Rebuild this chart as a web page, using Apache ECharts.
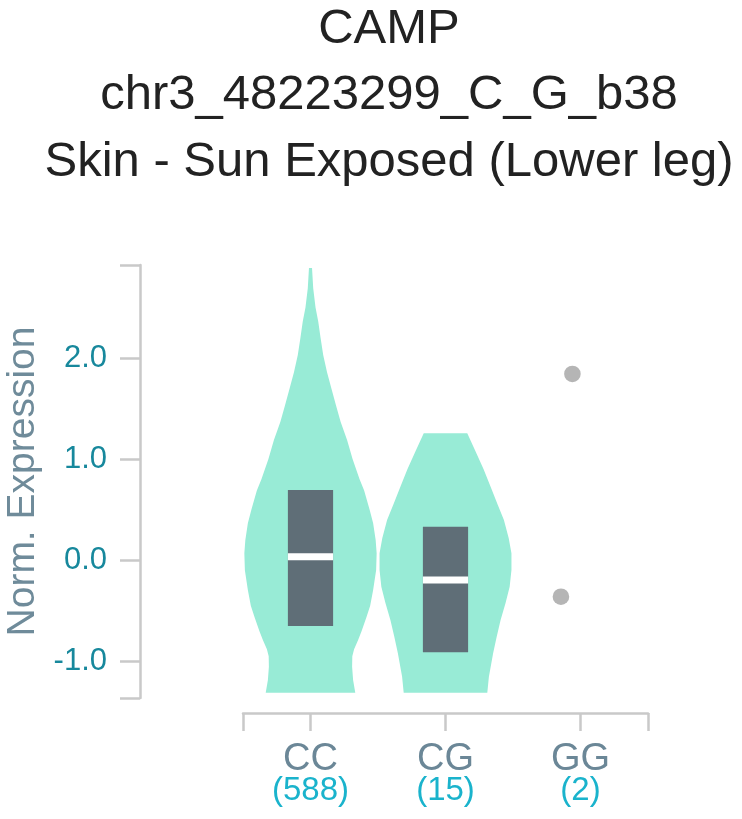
<!DOCTYPE html>
<html>
<head>
<meta charset="utf-8">
<title>CAMP eQTL violin</title>
<script src="https://cdn.jsdelivr.net/npm/echarts@6/dist/echarts.min.js"></script>
<style>
  html, body { margin: 0; padding: 0; background: #fff; }
  #chart { width: 742px; height: 819px; }
</style>
</head>
<body>
<div id="chart"></div>
<script>
// genotype groups and sample counts
const categories = ['CC', 'CG', 'GG'];
const sampleCounts = [588, 15, 2];

// y range of the expression axis
const yMin = -1.363;
const yMax = 2.92;

// violin outlines: expression value -> relative density (1 = widest)
const ccValues = [2.89, 2.69, 2.50, 2.36, 2.20, 2.03, 1.86, 1.70, 1.53, 1.37, 1.19, 1.00, 0.80, 0.69, 0.50, 0.365, 0.20, 0.068, -0.10, -0.294, -0.45, -0.559, -0.70, -0.789, -0.88, -0.95, -1.053, -1.185, -1.31];
const ccDensity = [0.023, 0.041, 0.076, 0.117, 0.152, 0.192, 0.25, 0.315, 0.386, 0.455, 0.553, 0.636, 0.742, 0.811, 0.894, 0.947, 0.985, 1.0, 0.992, 0.947, 0.902, 0.848, 0.773, 0.72, 0.659, 0.632, 0.629, 0.644, 0.677];
const cgValues = [1.255, 1.057, 0.90, 0.727, 0.55, 0.398, 0.22, 0.068, -0.097, -0.262, -0.42, -0.591, -0.76, -0.921, -1.152, -1.31];
const cgDensity = [0.329, 0.467, 0.576, 0.682, 0.788, 0.883, 0.955, 0.997, 0.997, 0.97, 0.909, 0.833, 0.773, 0.72, 0.656, 0.632];

// box summaries (CC, CG)
const boxQ1 = [-0.651, -0.911];
const boxMedian = [0.035, -0.196];
const boxQ3 = [0.694, 0.331];

// GG has only two samples, drawn as points (value, jitter as share of band)
const ggValues = [1.842, -0.361];
const ggJitter = [-0.06, -0.145];

const FONT = '"Liberation Sans", Arial, Helvetica, sans-serif';
const VIOLIN_COLOR = '#98ebd6';
const BOX_COLOR = '#5f6e77';
const AXIS_COLOR = '#c9c9c9';
const HALF_SCALE = 0.49;   // widest half-width as share of band
const BOX_FRAC = 0.335;

const profiles = [
  { values: ccValues, density: ccDensity },
  { values: cgValues, density: cgDensity }
];

const chart = echarts.init(document.getElementById('chart'), null, { renderer: 'canvas' });

function renderViolin(params, api) {
  const ci = api.value(0);
  const prof = profiles[ci];
  const band = api.size([1, 0])[0];
  const right = [], left = [];
  prof.values.forEach((v, k) => {
    const p = api.coord([ci, v]);
    const hw = prof.density[k] * band * HALF_SCALE;
    right.push([p[0] + hw, p[1]]);
    left.push([p[0] - hw, p[1]]);
  });
  return {
    type: 'polygon',
    shape: { points: right.concat(left.reverse()) },
    style: { fill: VIOLIN_COLOR }
  };
}

function renderBox(params, api) {
  const ci = api.value(0);
  const lo = api.coord([ci, api.value(1)]);
  const md = api.coord([ci, api.value(2)]);
  const hi = api.coord([ci, api.value(3)]);
  const w = api.size([1, 0])[0] * BOX_FRAC;
  return {
    type: 'group',
    children: [
      { type: 'rect', shape: { x: lo[0] - w / 2, y: hi[1], width: w, height: lo[1] - hi[1] }, style: { fill: BOX_COLOR } },
      { type: 'rect', shape: { x: md[0] - w / 2, y: md[1] - 3.5, width: w, height: 7 }, style: { fill: '#ffffff' } }
    ]
  };
}

function renderPoint(params, api) {
  const p = api.coord([api.value(0), api.value(1)]);
  const band = api.size([1, 0])[0];
  return {
    type: 'circle',
    shape: { cx: p[0] + api.value(2) * band, cy: p[1], r: 8.3 },
    style: { fill: '#b5b5b5' }
  };
}

const axisLine = { color: AXIS_COLOR, width: 2.5 };

chart.setOption({
  animation: false,
  backgroundColor: '#ffffff',
  textStyle: { fontFamily: FONT },
  title: {
    text: 'CAMP\nchr3_48223299_C_G_b38\nSkin - Sun Exposed (Lower leg)',
    left: 389,
    top: -4,
    padding: 0,
    textAlign: 'center',
    textStyle: { fontSize: 49, lineHeight: 66.5, color: '#222222', fontWeight: 'normal', fontFamily: FONT }
  },
  grid: { left: 243, top: 265, width: 405, height: 433, containLabel: false, outerBoundsMode: 'none' },
  xAxis: [
    {
      type: 'category',
      data: categories,
      position: 'bottom',
      offset: 15,
      boundaryGap: true,
      axisLine: { show: true, onZero: false, lineStyle: axisLine },
      axisTick: { show: true, alignWithLabel: true, length: 18, lineStyle: axisLine },
      axisLabel: {
        margin: 31,
        interval: 0,
        formatter: (v, i) => '{c|' + v + '}\n{n|(' + sampleCounts[i] + ')}',
        rich: {
          c: { fontSize: 38, lineHeight: 31, color: '#6b8797', fontFamily: FONT },
          n: { fontSize: 33, lineHeight: 31, color: '#1ab3cc', fontFamily: FONT }
        }
      },
      splitLine: { show: false }
    },
    {
      // outer end caps of the x axis
      type: 'value',
      min: 0,
      max: 1,
      interval: 1,
      position: 'bottom',
      offset: 15,
      axisLine: { show: false, onZero: false },
      axisTick: { show: true, length: 18, lineStyle: axisLine },
      axisLabel: { show: false },
      splitLine: { show: false }
    }
  ],
  yAxis: [
    {
      type: 'value',
      min: yMin,
      max: yMax,
      position: 'left',
      offset: 103,
      name: 'Norm. Expression',
      nameLocation: 'middle',
      nameGap: 95,
      nameTextStyle: { fontSize: 39, color: '#6f8b9a', fontFamily: FONT },
      axisLine: { show: true, onZero: false, lineStyle: axisLine },
      axisTick: { show: true, length: 20, lineStyle: axisLine },
      axisLabel: {
        margin: 33,
        fontSize: 31,
        color: '#17889c',
        fontFamily: FONT,
        showMinLabel: false,
        showMaxLabel: false,
        formatter: v => v.toFixed(1)
      },
      splitLine: { show: false }
    },
    {
      // outer end caps of the y axis
      type: 'value',
      min: 0,
      max: 1,
      interval: 1,
      position: 'left',
      offset: 103,
      axisLine: { show: false, onZero: false },
      axisTick: { show: true, length: 20, lineStyle: axisLine },
      axisLabel: { show: false },
      splitLine: { show: false }
    }
  ],
  series: [
    {
      type: 'custom',
      name: 'violin',
      xAxisIndex: 0,
      yAxisIndex: 0,
      renderItem: renderViolin,
      encode: { x: 0 },
      data: profiles.map((p, i) => [i]),
      silent: true
    },
    {
      type: 'custom',
      name: 'box',
      xAxisIndex: 0,
      yAxisIndex: 0,
      renderItem: renderBox,
      encode: { x: 0, y: [1, 2, 3] },
      data: boxQ1.map((q, i) => [i, q, boxMedian[i], boxQ3[i]]),
      z: 3
    },
    {
      type: 'custom',
      name: 'points',
      xAxisIndex: 0,
      yAxisIndex: 0,
      renderItem: renderPoint,
      encode: { x: 0, y: 1 },
      data: ggValues.map((v, i) => [2, v, ggJitter[i]]),
      z: 4
    }
  ]
});
</script>
</body>
</html>
